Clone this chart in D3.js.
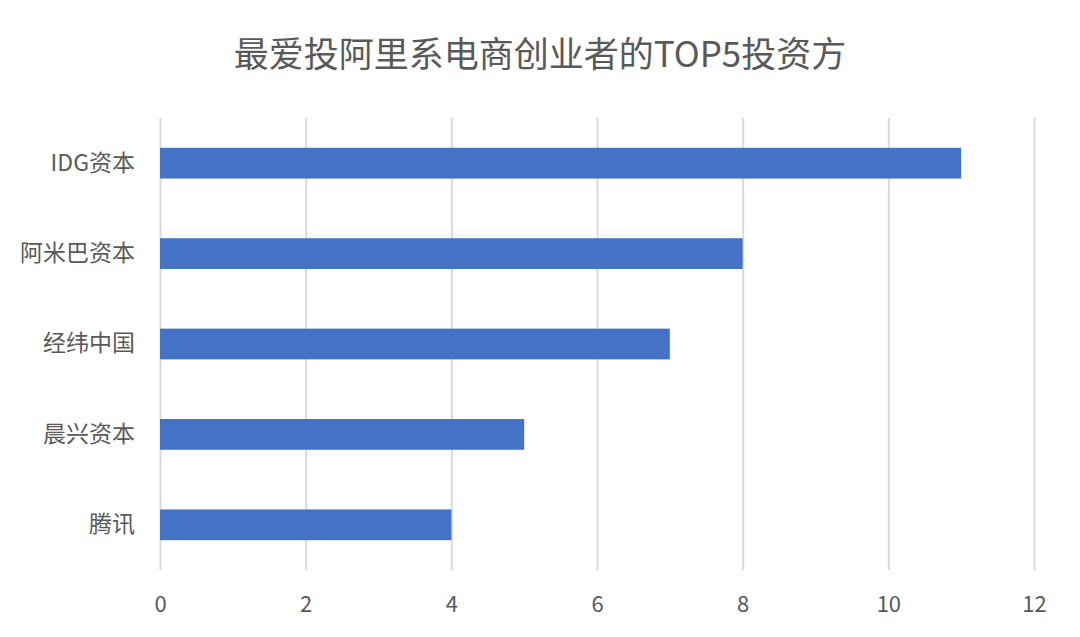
<!DOCTYPE html>
<html><head><meta charset="utf-8">
<script src="https://cdn.jsdelivr.net/npm/d3@7/dist/d3.min.js"></script>
<style>body{margin:0;background:#fff}svg{display:block}</style>
</head><body><svg id="c" width="1080" height="637"></svg>
<script>
const categories = ["IDG资本","阿米巴资本","经纬中国","晨兴资本","腾讯"];
const values = [11, 8, 7, 5, 4];
const tickValues = [0, 2, 4, 6, 8, 10, 12];
const title = "最爱投阿里系电商创业者的TOP5投资方";

(function(){
const svg = d3.select("#c");
const font = "'Microsoft YaHei','Noto Sans CJK SC',sans-serif";
const mLeft = 160, mRight = 1034, mTop = 118, mBottom = 570;
const x = d3.scaleLinear().domain([0, 12]).range([mLeft, mRight]);
const y = d3.scaleBand().domain(categories).range([mTop, mBottom]).paddingInner(0.66).paddingOuter(0.33);

svg.append("text").attr("x", 540).attr("y", 67).attr("text-anchor", "middle")
  .attr("font-family", font).attr("font-size", 35).attr("fill", "#595959").text(title);

const gx = svg.append("g").attr("transform", `translate(0,${mBottom})`)
  .call(d3.axisBottom(x).tickValues(tickValues).tickSize(-(mBottom - mTop)).tickPadding(26));
gx.select(".domain").remove();
gx.selectAll("line").attr("stroke", "#d9d9d9").attr("stroke-width", 2);
gx.selectAll("text").attr("font-family", font).attr("font-size", 22).attr("fill", "#595959");

svg.append("g").selectAll("rect").data(categories).join("rect")
  .attr("x", x(0)).attr("y", d => y(d)).attr("height", y.bandwidth())
  .attr("width", (d, i) => x(values[i]) - x(0)).attr("fill", "#4472C4");

const gy = svg.append("g").attr("transform", `translate(${mLeft},0)`)
  .call(d3.axisLeft(y).tickSize(0).tickPadding(25));
gy.select(".domain").remove();
gy.selectAll("text").attr("font-family", font).attr("font-size", 23).attr("fill", "#595959");
})();
</script></body></html>
